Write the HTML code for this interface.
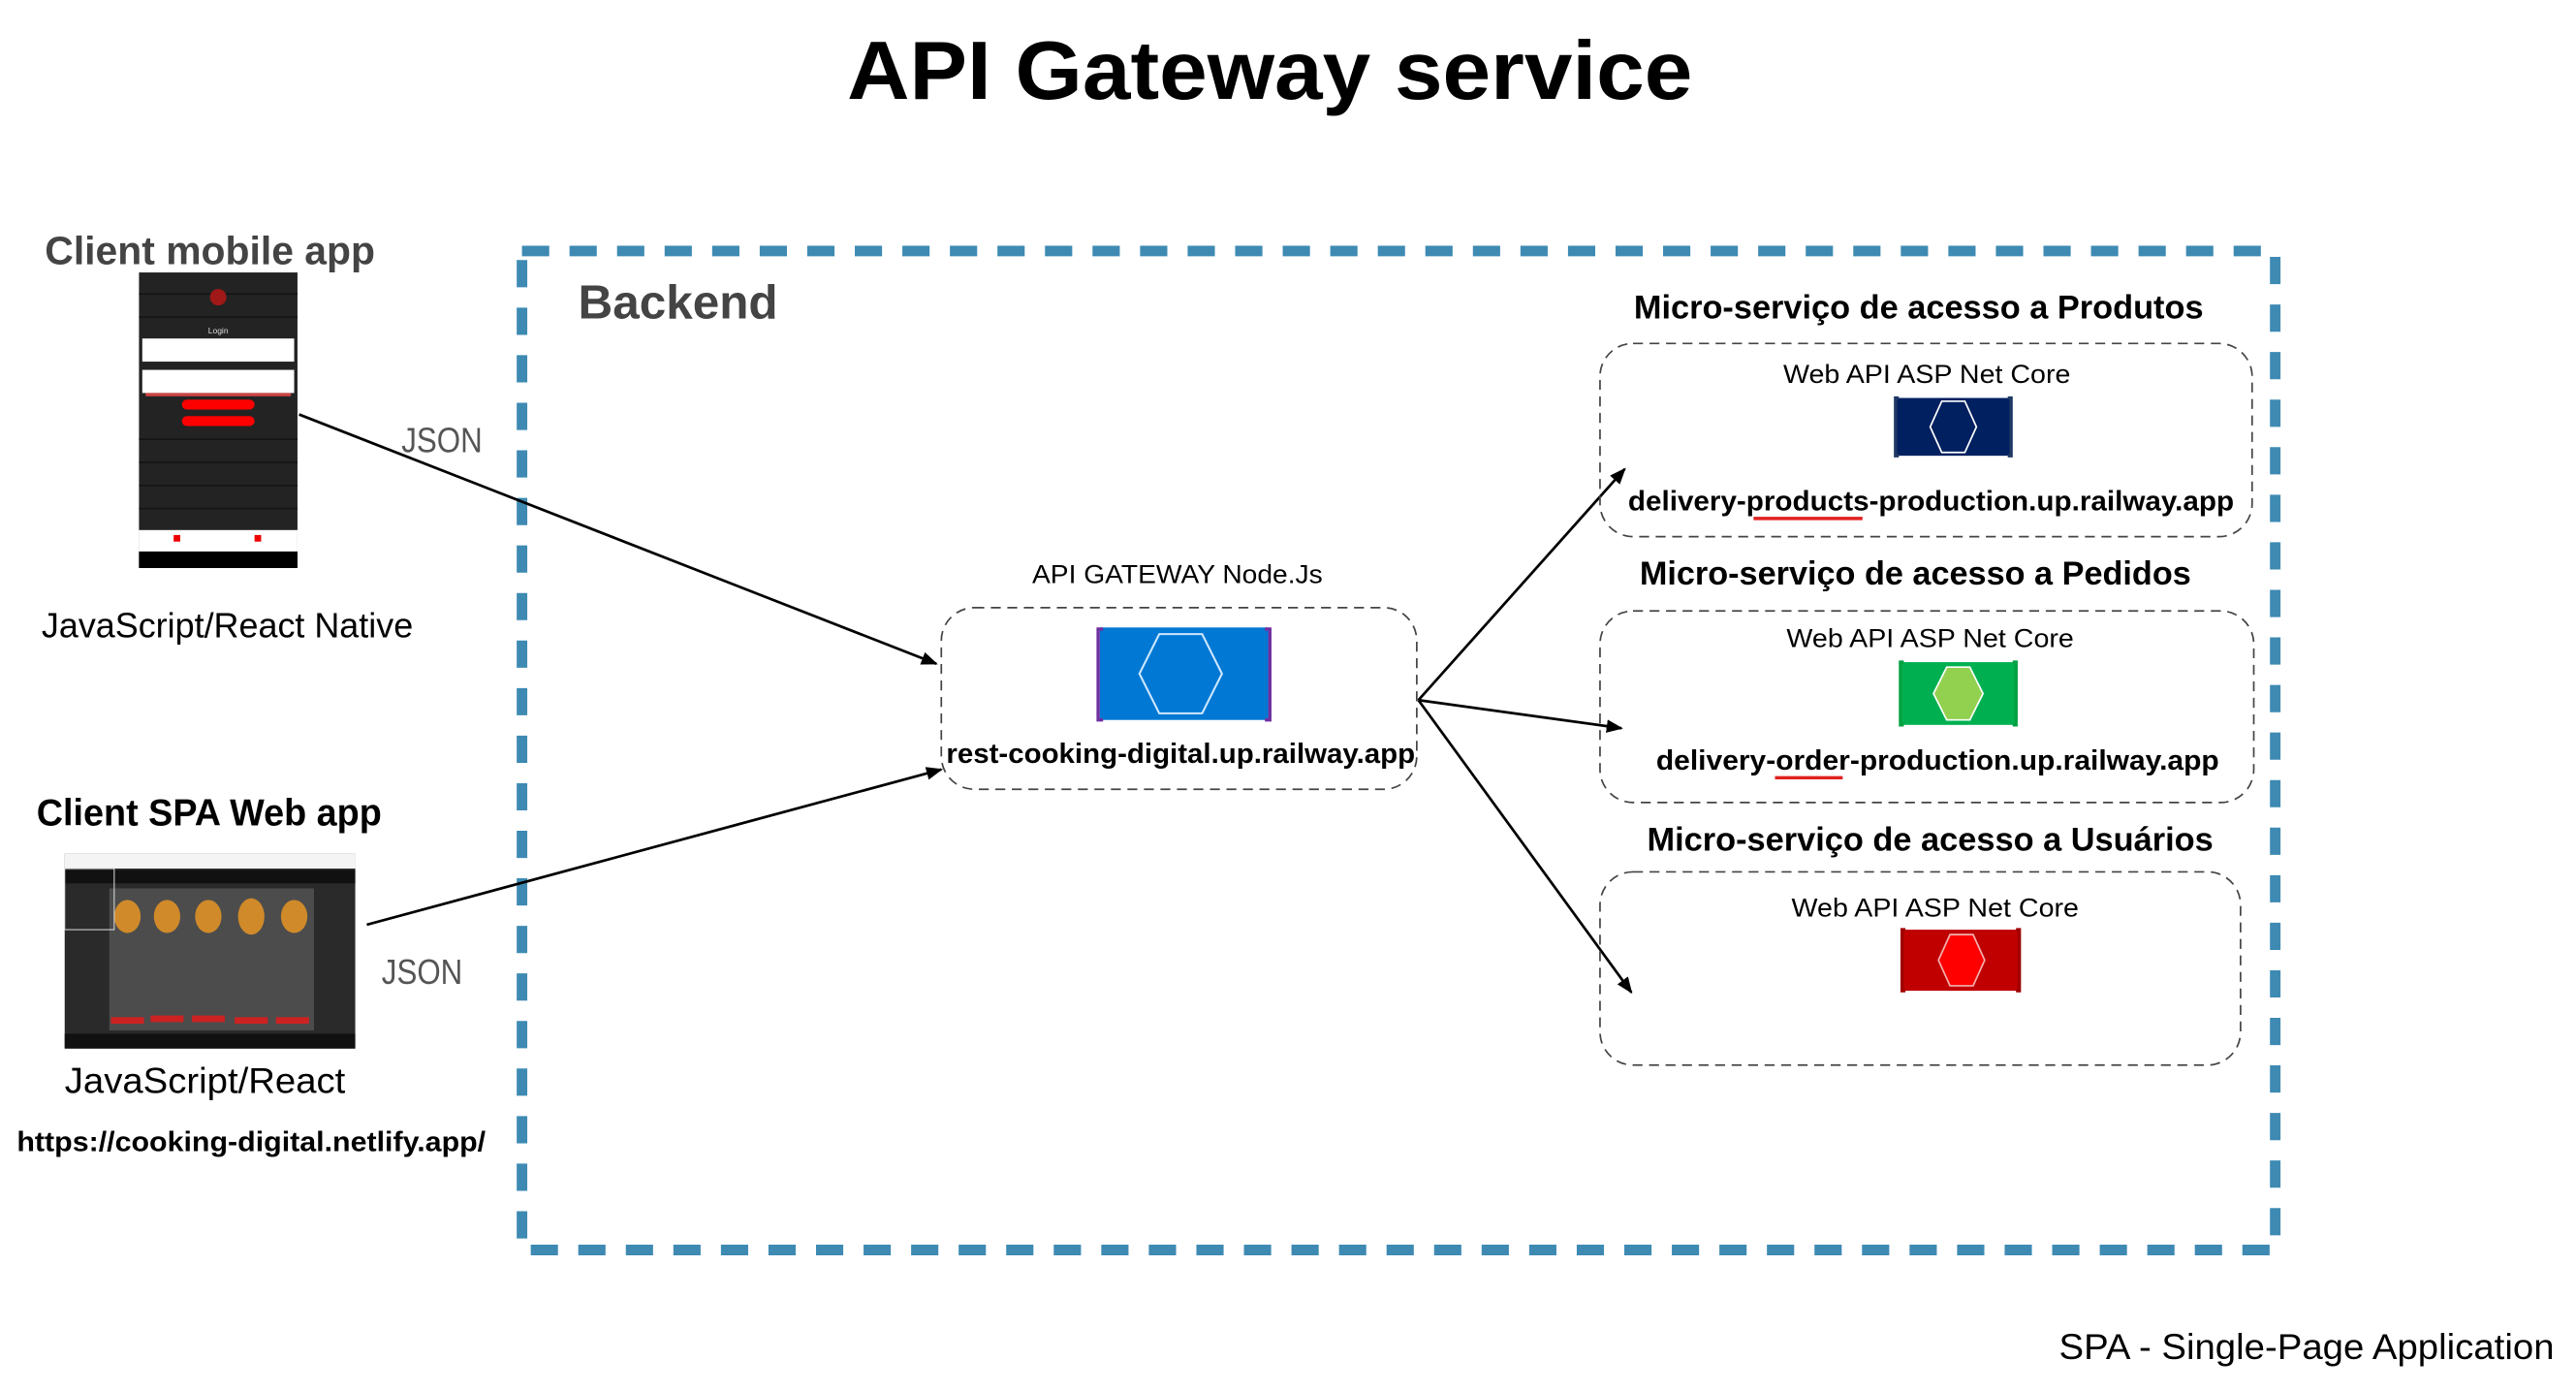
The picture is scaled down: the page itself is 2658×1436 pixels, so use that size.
<!DOCTYPE html>
<html><head><meta charset="utf-8"><style>
html,body{margin:0;padding:0;background:#fff;}
svg{display:block;}
text{font-family:"Liberation Sans",sans-serif;}
</style></head><body>
<svg width="2658" height="1436" viewBox="0 0 1560 843" xmlns="http://www.w3.org/2000/svg">
<defs>
<marker id="ah" markerWidth="10" markerHeight="8" refX="9" refY="4" orient="auto" markerUnits="userSpaceOnUse">
<path d="M0,0 L10,4 L0,8 Z" fill="#000"/>
</marker>
</defs>
<rect width="1560" height="843" fill="#fff"/>

<!-- Title -->
<text x="769" y="60" font-size="50" font-weight="bold" text-anchor="middle" textLength="512" lengthAdjust="spacingAndGlyphs">API Gateway service</text>

<!-- Backend dashed box -->
<path d="M316,152 L1378,152 L1378,757 L316,757 Z" fill="none" stroke="#3E8AB3" stroke-width="6.4" stroke-dasharray="16.5 12.3"/>
<text x="350" y="193" font-size="29" font-weight="bold" fill="#444" textLength="121" lengthAdjust="spacingAndGlyphs">Backend</text>

<!-- Client mobile -->
<text x="27" y="160" font-size="24" font-weight="bold" fill="#444" textLength="200" lengthAdjust="spacingAndGlyphs">Client mobile app</text>
<g>
<rect x="84" y="165" width="96" height="179" fill="#232323"/>
<g stroke="#151515" stroke-width="1">
<line x1="84" y1="178" x2="180" y2="178"/><line x1="84" y1="192" x2="180" y2="192"/>
<line x1="84" y1="266" x2="180" y2="266"/><line x1="84" y1="280" x2="180" y2="280"/>
<line x1="84" y1="294" x2="180" y2="294"/><line x1="84" y1="308" x2="180" y2="308"/>
</g>
<circle cx="132" cy="180" r="5" fill="#a01818"/>
<text x="132" y="202" font-size="5" fill="#ddd" text-anchor="middle">Login</text>
<rect x="86" y="205" width="92" height="14" fill="#fff"/>
<rect x="86" y="224" width="92" height="14" fill="#fff"/>
<rect x="88" y="238" width="88" height="2" fill="#c44"/>
<rect x="110" y="242" width="44" height="6" rx="3" fill="#f00"/>
<rect x="110" y="252" width="44" height="6" rx="3" fill="#f00"/>
<rect x="84" y="321" width="96" height="13" fill="#fff"/>
<rect x="84" y="334" width="96" height="10" fill="#000"/>
<rect x="105" y="324" width="4" height="4" fill="#e00"/>
<rect x="154" y="324" width="4" height="4" fill="#e00"/>
</g>
<text x="25" y="386" font-size="21" textLength="225" lengthAdjust="spacingAndGlyphs">JavaScript/React Native</text>
<text x="243" y="274" font-size="21" fill="#555" textLength="49" lengthAdjust="spacingAndGlyphs">JSON</text>
<line x1="181" y1="251" x2="567" y2="402" stroke="#000" stroke-width="1.6" marker-end="url(#ah)"/>

<!-- Client SPA -->
<text x="22" y="500" font-size="23" font-weight="bold" textLength="209" lengthAdjust="spacingAndGlyphs">Client SPA Web app</text>
<g>
<rect x="39" y="517" width="176" height="118" fill="#2a2a2a"/>
<rect x="39" y="517" width="176" height="9" fill="#f4f4f4"/>
<rect x="39" y="527" width="176" height="8" fill="#111"/>
<rect x="66" y="538" width="124" height="86" fill="#555" opacity="0.8"/>
<g fill="#d08a2a">
<ellipse cx="77" cy="555" rx="8" ry="10"/><ellipse cx="101" cy="555" rx="8" ry="10"/>
<ellipse cx="126" cy="555" rx="8" ry="10"/><ellipse cx="152" cy="555" rx="8" ry="11"/>
<ellipse cx="178" cy="555" rx="8" ry="10"/>
</g>
<g fill="#c22">
<rect x="67" y="616" width="20" height="4"/><rect x="91" y="615" width="20" height="4"/>
<rect x="116" y="615" width="20" height="4"/><rect x="142" y="616" width="20" height="4"/>
<rect x="167" y="616" width="20" height="4"/>
</g>
<rect x="39" y="626" width="176" height="9" fill="#111"/>
<rect x="39" y="526" width="30" height="37" fill="none" stroke="#ddd" stroke-width="0.6"/>
</g>
<text x="231" y="596" font-size="21" fill="#555" textLength="49" lengthAdjust="spacingAndGlyphs">JSON</text>
<text x="39" y="662" font-size="22" textLength="170" lengthAdjust="spacingAndGlyphs">JavaScript/React</text>
<text x="10" y="697" font-size="17" font-weight="bold" textLength="284" lengthAdjust="spacingAndGlyphs">https://cooking-digital.netlify.app/</text>
<line x1="222" y1="560" x2="570" y2="466" stroke="#000" stroke-width="1.6" marker-end="url(#ah)"/>

<!-- Gateway -->
<text x="713" y="353" font-size="16" text-anchor="middle" textLength="176" lengthAdjust="spacingAndGlyphs">API GATEWAY Node.Js</text>
<rect x="570" y="368" width="288" height="110" rx="20" fill="none" stroke="#444" stroke-width="1" stroke-dasharray="6 4"/>
<g>
<rect x="666" y="380" width="102" height="56" fill="#0078d4"/>
<path d="M668,381 h-3 v55 h3 M766,381 h3 v55 h-3" fill="none" stroke="#7030a0" stroke-width="2"/>
<polygon points="702,384 728,384 740,408 728,432 702,432 690,408" fill="none" stroke="#cfe8ff" stroke-width="1.2"/>
</g>
<text x="573" y="462" font-size="17" font-weight="bold" textLength="284" lengthAdjust="spacingAndGlyphs">rest-cooking-digital.up.railway.app</text>

<line x1="859" y1="424" x2="984" y2="284" stroke="#000" stroke-width="1.6" marker-end="url(#ah)"/>
<line x1="859" y1="424" x2="982" y2="441" stroke="#000" stroke-width="1.6" marker-end="url(#ah)"/>
<line x1="859" y1="424" x2="988" y2="601" stroke="#000" stroke-width="1.6" marker-end="url(#ah)"/>

<!-- Produtos -->
<text x="1162" y="193" font-size="20" font-weight="bold" text-anchor="middle" textLength="345" lengthAdjust="spacingAndGlyphs">Micro-serviço de acesso a Produtos</text>
<rect x="969" y="208" width="395" height="117" rx="20" fill="none" stroke="#444" stroke-width="1" stroke-dasharray="6 4"/>
<text x="1167" y="232" font-size="16" text-anchor="middle" textLength="174" lengthAdjust="spacingAndGlyphs">Web API ASP Net Core</text>
<rect x="1148" y="241" width="70" height="35" fill="#002060"/>
<path d="M1150,241 h-2 v35 h2 M1216,241 h2 v35 h-2" fill="none" stroke="#1f3864" stroke-width="2"/>
<polygon points="1176,243 1190,243 1197,258.5 1190,274 1176,274 1169,258.5" fill="none" stroke="#fff" stroke-width="1"/>
<text x="986" y="309" font-size="17" font-weight="bold" textLength="367" lengthAdjust="spacingAndGlyphs">delivery-products-production.up.railway.app</text>
<line x1="1062" y1="314" x2="1128" y2="314" stroke="#e02020" stroke-width="2"/>

<!-- Pedidos -->
<text x="1160" y="354" font-size="20" font-weight="bold" text-anchor="middle" textLength="334" lengthAdjust="spacingAndGlyphs">Micro-serviço de acesso a Pedidos</text>
<rect x="969" y="370" width="396" height="116" rx="20" fill="none" stroke="#444" stroke-width="1" stroke-dasharray="6 4"/>
<text x="1169" y="392" font-size="16" text-anchor="middle" textLength="174" lengthAdjust="spacingAndGlyphs">Web API ASP Net Core</text>
<rect x="1151" y="401" width="70" height="38" fill="#00b050"/>
<path d="M1153,401 h-2 v38 h2 M1219,401 h2 v38 h-2" fill="none" stroke="#00a040" stroke-width="2"/>
<polygon points="1179,404 1193,404 1201,420 1193,436 1179,436 1171,420" fill="#92d050" stroke="#fff" stroke-width="1"/>
<text x="1003" y="466" font-size="17" font-weight="bold" textLength="341" lengthAdjust="spacingAndGlyphs">delivery-order-production.up.railway.app</text>
<line x1="1075" y1="471" x2="1116" y2="471" stroke="#e02020" stroke-width="2"/>

<!-- Usuarios -->
<text x="1169" y="515" font-size="20" font-weight="bold" text-anchor="middle" textLength="343" lengthAdjust="spacingAndGlyphs">Micro-serviço de acesso a Usuários</text>
<rect x="969" y="528" width="388" height="117" rx="20" fill="none" stroke="#444" stroke-width="1" stroke-dasharray="6 4"/>
<text x="1172" y="555" font-size="16" text-anchor="middle" textLength="174" lengthAdjust="spacingAndGlyphs">Web API ASP Net Core</text>
<rect x="1152" y="563" width="71" height="37" fill="#c00000"/>
<path d="M1154,563 h-2 v37 h2 M1221,563 h2 v37 h-2" fill="none" stroke="#a00000" stroke-width="2"/>
<polygon points="1181,566 1195,566 1202,581.5 1195,597 1181,597 1174,581.5" fill="#ff0000" stroke="#f4b0b0" stroke-width="1"/>

<text x="1247" y="823" font-size="22" textLength="300" lengthAdjust="spacingAndGlyphs">SPA - Single-Page Application</text>
</svg>
</body></html>
